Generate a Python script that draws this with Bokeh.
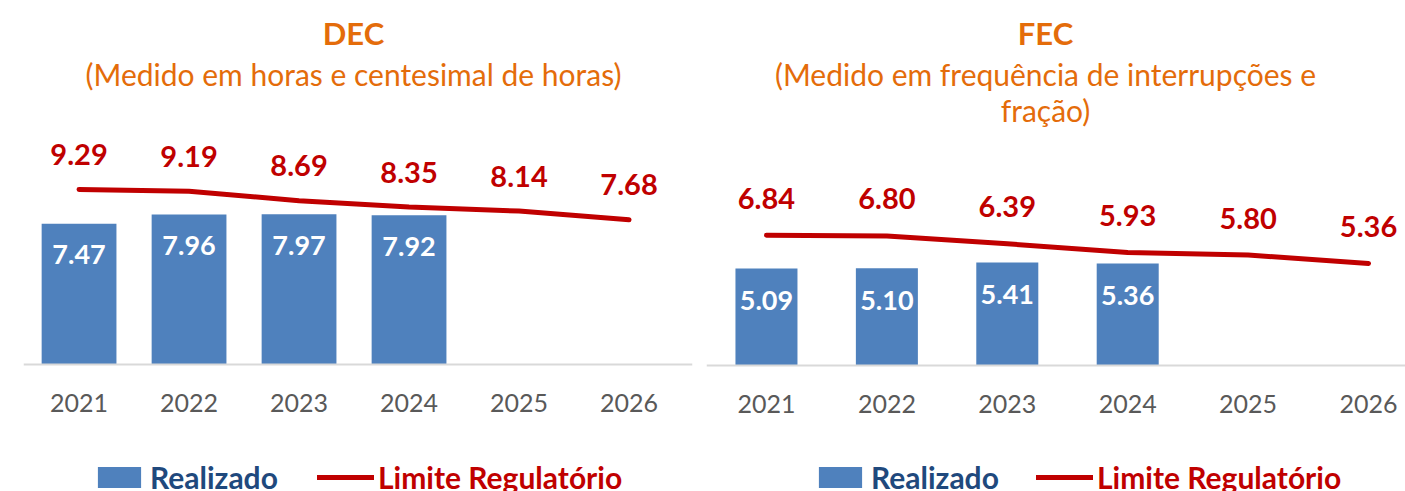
from bokeh.plotting import figure
from bokeh.models import Range1d, Label, Legend, LegendItem, ColumnDataSource, Span
from bokeh.layouts import row
from bokeh.core.properties import value
from bokeh.embed import file_html
from bokeh.resources import INLINE

# ---- data ----
years = ["2021", "2022", "2023", "2024", "2025", "2026"]
dec_realizado = [7.47, 7.96, 7.97, 7.92]
dec_limite = [9.29, 9.19, 8.69, 8.35, 8.14, 7.68]
fec_realizado = [5.09, 5.10, 5.41, 5.36]
fec_limite = [6.84, 6.80, 6.39, 5.93, 5.80, 5.36]

FONT = "Lato"
BAR_C = "#4F81BD"
LINE_C = "#C00000"
ORANGE = "#E46C0A"
H = 491


def make_chart(title, sub_lines, realizado, limite, width, bl, br, xr, yr,
               bar_w, title_x, title_ys, lab_up, lab_down, leg_x, leg_y):
    p = figure(width=width, height=H, output_backend="svg", toolbar_location=None,
               x_range=Range1d(*xr), y_range=Range1d(*yr),
               x_axis_location=None, y_axis_location=None,
               min_border_left=bl, min_border_right=br, min_border_top=0, min_border_bottom=0)
    p.outline_line_color = None
    p.grid.visible = False
    p.background_fill_color = "white"
    p.border_fill_color = "white"

    xs_b = list(range(len(realizado)))
    xs_l = list(range(len(limite)))
    bsrc = ColumnDataSource(dict(x=xs_b, top=realizado, lab=[f"{v:.2f}" for v in realizado]))
    lsrc = ColumnDataSource(dict(x=xs_l, y=limite, lab=[f"{v:.2f}" for v in limite]))
    ysrc = ColumnDataSource(dict(x=list(range(len(years))), y=[0] * len(years), lab=years))

    # category axis: baseline and year labels
    p.add_layout(Span(location=0, dimension="width", line_color="#D9D9D9", line_width=2))
    p.text(x="x", y="y", text="lab", source=ysrc, y_offset=38,
           text_align="center", text_baseline="middle", text_color="#595959",
           text_font=value(FONT), text_font_size="25px")

    bars = p.vbar(x="x", top="top", width=bar_w, source=bsrc, fill_color=BAR_C, line_color=None)
    line = p.line(x="x", y="y", source=lsrc, line_color=LINE_C, line_width=5,
                  line_join="round", line_cap="round")

    p.text(x="x", y="top", text="lab", source=bsrc, y_offset=lab_down,
           text_align="center", text_baseline="middle", text_color="white",
           text_font=value(FONT), text_font_style="bold", text_font_size="27px")
    p.text(x="x", y="y", text="lab", source=lsrc, y_offset=-lab_up,
           text_align="center", text_baseline="middle", text_color=LINE_C,
           text_font=value(FONT), text_font_style="bold", text_font_size="29px")

    p.add_layout(Label(x=title_x, y=title_ys[0], x_units="screen", y_units="screen", text=title,
                       text_align="center", text_baseline="middle", text_color=ORANGE,
                       text_font=FONT, text_font_style="bold", text_font_size="31px"))
    for s, yy in zip(sub_lines, title_ys[1:]):
        p.add_layout(Label(x=title_x, y=yy, x_units="screen", y_units="screen", text=s,
                           text_align="center", text_baseline="middle", text_color=ORANGE,
                           text_font=FONT, text_font_size="30px"))

    leg1 = Legend(items=[LegendItem(label="Realizado", renderers=[bars])],
                  location=(leg_x[0], leg_y), glyph_width=54, glyph_height=26,
                  label_text_color="#1F497D")
    leg2 = Legend(items=[LegendItem(label="Limite Regulatório", renderers=[line])],
                  location=(leg_x[1], leg_y), glyph_width=57, glyph_height=26,
                  label_text_color=LINE_C)
    for lg in (leg1, leg2):
        lg.padding = 0
        lg.margin = 0
        lg.border_line_color = None
        lg.background_fill_alpha = 0
        lg.label_standoff = 4
        lg.label_text_font = FONT
        lg.label_text_font_style = "bold"
        lg.label_text_font_size = "30px"
        lg.label_height = 26
        p.add_layout(lg)
    return p


p1 = make_chart("DEC", ["(Medido em horas e centesimal de horas)"], dec_realizado, dec_limite,
                width=700, bl=23, br=8, xr=(-0.505, 5.577),
                yr=(-(H - 364) / 18.85, 364 / 18.85),
                bar_w=0.68, title_x=330, title_ys=[459, 418], lab_up=35, lab_down=31,
                leg_x=(69, 294), leg_y=-4)
p2 = make_chart("FEC", ["(Medido em frequência de interrupções e", "fração)"], fec_realizado, fec_limite,
                width=705, bl=6, br=0, xr=(-0.498, 5.307),
                yr=(-(H - 365) / 19.05, 365 / 19.05),
                bar_w=0.515, title_x=339, title_ys=[459, 418, 382], lab_up=37, lab_down=32,
                leg_x=(107, 330), leg_y=-4)

layout = row(p1, p2)
open("out.html", "w").write(file_html(layout, INLINE))
